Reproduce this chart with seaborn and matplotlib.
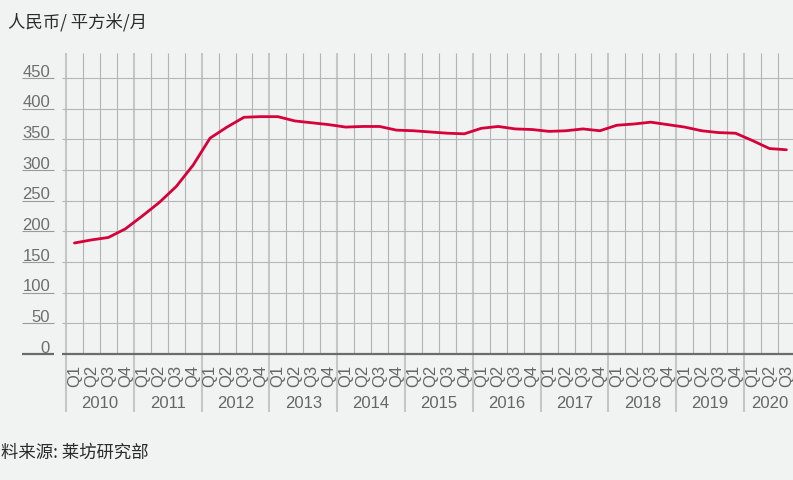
import numpy as np
import pandas as pd
import seaborn as sns
import matplotlib.pyplot as plt
from matplotlib.transforms import blended_transform_factory

# ---------------- data ----------------
years = ['2010', '2011', '2012', '2013', '2014', '2015', '2016', '2017', '2018', '2019', '2020']
quarters = ['Q1', 'Q2', 'Q3', 'Q4']
rent = [181, 186, 190, 204, 225, 247, 273, 308, 352, 370, 386, 387, 387,
        380, 377, 374, 370, 371, 371, 365, 364, 362, 360, 359,
        368, 371, 367, 366, 363, 364, 367, 364, 373, 375, 378, 374,
        370, 364, 361, 360, 348, 335, 333]
y_ticks = [0, 50, 100, 150, 200, 250, 300, 350, 400, 450]
title_text = '人民币/ 平方米/月'
source_text = '料来源: 莱坊研究部'

# ---------------- style ----------------
bg = '#F0F3F2'
red = '#D6003A'
sns.set_theme(style='white')
plt.rcParams['font.family'] = ['Liberation Sans', 'Noto Sans CJK SC', 'DejaVu Sans']

W, H = 793, 481
n = len(rent)
qw = 16.95
px_per_unit = 0.6133
ytop = 490

fig = plt.figure(figsize=(W / 100, H / 100), dpi=100, facecolor=bg)
ax = fig.add_axes([66 / W, (H - 355) / H, n * qw / W, ytop * px_per_unit / H])
ax.set_facecolor(bg)
ax.set_xlim(-0.5, n - 0.5)
ax.set_ylim(0, ytop)
for s in ax.spines.values():
    s.set_visible(False)
ax.set_xticks([])
ax.set_yticks([])

bx = blended_transform_factory(ax.transData, ax.transAxes)
bf = blended_transform_factory(fig.transFigure, ax.transData)

# vertical grid lines
for i in range(n + 1):
    x = i - 0.5
    if i % 4 == 0:
        ax.plot([x, x], [-58 / (ytop * px_per_unit), 1], transform=bx, color='#c6c6c6',
                lw=1.5, clip_on=False, zorder=1, solid_capstyle='butt')
    else:
        ax.plot([x, x], [0, 1], transform=bx, color='#b3b3b3', lw=0.8,
                clip_on=False, zorder=1, solid_capstyle='butt')

# horizontal grid lines and y labels with underline
for v in y_ticks:
    if v == 0:
        col, lw = '#6b6b6b', 1.6
    else:
        col, lw = '#b6b6b6', 0.8
    ax.hlines(v, -0.74, n + 1, color=col, lw=lw, clip_on=False, zorder=2)
    ax.plot([22 / W, 54 / W], [v, v], transform=bf, color=(col if v == 0 else '#9a9a9a'),
            lw=lw, clip_on=False, solid_capstyle='butt')
    ax.text(50 / W, v + 4, str(v), transform=bf, ha='right', va='baseline',
            fontsize=12, color='#6e6e6e')

# quarter labels
labels = [q for y in years for q in quarters][:n]
for i, lab in enumerate(labels):
    ax.text(i, -10 / (ytop * px_per_unit), lab, transform=bx, rotation=90,
            ha='center', va='top', fontsize=12, color='#666666')

# year labels
for k, yr in enumerate(years):
    nq = min(4, n - 4 * k)
    xc = 4 * k + (nq - 1) / 2
    ax.text(xc, -49 / (ytop * px_per_unit), yr, transform=bx, ha='center',
            va='center', fontsize=12, color='#666666')

# data line
df = pd.DataFrame({'idx': np.arange(n), 'rent': rent})
sns.lineplot(data=df, x='idx', y='rent', color=red, lw=2.0, ax=ax, zorder=5)
ax.set_xlabel('')
ax.set_ylabel('')

# title and source
fig.text(8 / W, 1 - 22 / H, title_text, ha='left', va='center', fontsize=12.5,
         color='#2b2b2b', family=['Noto Sans CJK SC', 'DejaVu Sans'])
fig.text(1 / W, 1 - 453 / H, source_text, ha='left', va='center', fontsize=12.5,
         color='#2b2b2b', family=['Noto Sans CJK SC', 'DejaVu Sans'])

fig.savefig('out.png', dpi=100, facecolor=bg)
